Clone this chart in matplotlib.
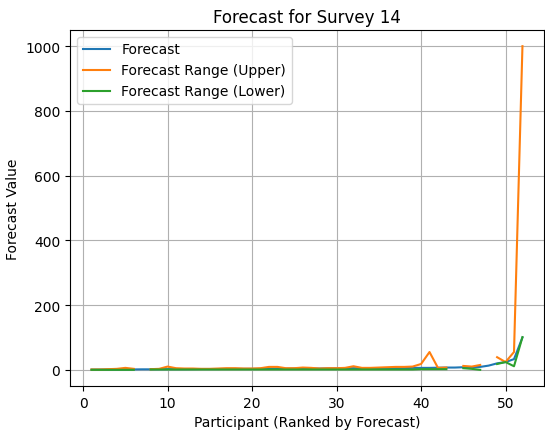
import numpy as np
import matplotlib
matplotlib.use("Agg")
import matplotlib.pyplot as plt

nan = np.nan
participants = list(range(1, 53))
forecast = [0.5, 0.6, 0.8, 1, 1, 1.2, 1.5, 1.5, 1.8, 2, 2, 2, 2.2, 2.5, 2.5, 2.5, 3, 3, 3, 3,
            3, 3.5, 3.5, 3.5, 4, 4, 4, 4, 4.5, 4.5, 5, 5, 5, 5, 5, 5, 5, 5.5, 6, 6,
            6, 6.5, 7, 7, 8, 8, 9, 13, 20, 24, 33, 100]
upper = [1, 1, 2, 3, 6, 3, nan, 2, 3, 10, 5, 4, 4, 3, 3, 4, 5, 5, 4, 4,
         5, 9, 9, 5, 5, 7, 6, 4, 5, 5, 6, 11, 6, 6, 7, 8, 9, 9, 10, 18,
         55, 6, 7, nan, 12, 10, 15, nan, 39, 24, 55, 1000]
lower = [0, 0, 0, 0, 0, 0, nan, 1, 1, 1, 1, 1, 1, 1, 1, 1, 1, 1, 1, 1,
         1, 1, 1, 1, 1, 1, 1, 1, 1, 1, 1, 1, 1, 1, 1, 1, 1, 1, 1, 2,
         2, 2, 2, nan, 5, 3, 0, nan, 18, 24, 11, 101]

fig = plt.figure(figsize=(5.45, 4.35), dpi=100)
ax = fig.add_axes([70/545, 48/435, 474/545, 356/435])
ax.plot(participants, forecast, label="Forecast")
ax.plot(participants, upper, label="Forecast Range (Upper)")
ax.plot(participants, lower, label="Forecast Range (Lower)")
ax.set_title("Forecast for Survey 14")
ax.set_xlabel("Participant (Ranked by Forecast)")
ax.set_ylabel("Forecast Value")
ax.grid(True)
ax.legend(loc="upper left")
fig.savefig("out.png", dpi=100)
